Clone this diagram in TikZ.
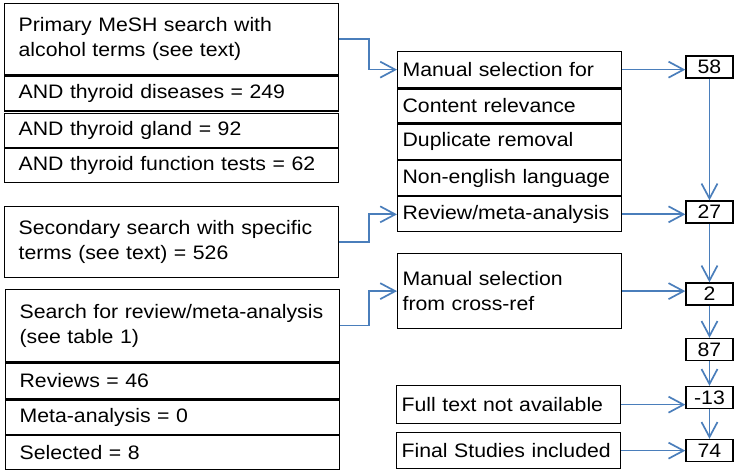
\documentclass[tikz,border=0pt]{standalone}
\usepackage{fontspec}
\setmainfont{Liberation Sans}[FakeStretch=1.09]
\usetikzlibrary{positioning,arrows.meta}
\definecolor{flowblue}{RGB}{74,126,187}

\tikzset{
  srch/.style={draw, line width=0.65pt, anchor=north west, align=left,
    text width=153pt, inner xsep=7pt, inner ysep=0pt, minimum height=#1},
  sel/.style={draw, line width=0.65pt, anchor=north west, align=left,
    text width=107pt, inner xsep=2.5pt, inner ysep=0pt, minimum height=#1},
  num/.style={draw, line width=0.65pt, minimum width=23.5pt,
    minimum height=11pt, inner sep=0pt},
  link/.style={draw=flowblue, line width=0.85pt,
    -{Straight Barb[length=7.5pt,width=8pt]}},
  every node/.style={font=\fontsize{9.75pt}{12.5pt}\selectfont}
}

\begin{document}
\begin{tikzpicture}[x=0.5pt, y=-0.5pt]
  \useasboundingbox (0,0) rectangle (741,474);

  % search boxes
  \node[srch=35.5pt] (p1) at (4,3) {Primary MeSH search with\\alcohol terms (see text)};
  \node[srch=17.5pt, below=0pt of p1] (p2) {AND thyroid diseases = 249};
  \node[srch=17pt, below=0.5pt of p2] (p3) {AND thyroid gland = 92};
  \node[srch=17pt, below=0pt of p3] (p4) {AND thyroid function tests = 62};

  \node[srch=35.5pt] (sec) at (4,206) {Secondary search with specific\\terms (see text) = 526};

  \node[srch=36pt] (rev) at (5,289) {Search for review/meta-analysis\\(see table 1)};
  \node[srch=18pt, below=0pt of rev] (rv) {Reviews = 46};
  \node[srch=17pt, below=0pt of rv] (ma) {Meta-analysis = 0};
  \node[srch=17pt, below=0pt of ma] (sl) {Selected = 8};

  % manual selection
  \node[sel=18pt] (m1) at (397,51) {Manual selection for};
  \node[sel=17pt, below=0pt of m1] (m2) {Content relevance};
  \node[sel=17.5pt, below=0pt of m2] (m3) {Duplicate removal};
  \node[sel=17.5pt, below=0pt of m3] (m4) {Non-english language};
  \node[sel=17.5pt, below=0pt of m4] (m5) {Review/meta-analysis};

  \node[sel=37.5pt] (xref) at (397,253) {Manual selection\\from cross-ref};
  \node[sel=19pt] (full) at (396,385) {Full text not available};
  \node[sel=18pt] (final) at (396,432) {Final Studies included};

  % counts
  \node[num] (n58) at (709.5,67) {58};
  \node[num] (n27) at (709.5,212) {27};
  \node[num] (n2) at (709.5,294) {2};
  \node[num] (n87) at (709.5,349.5) {87};
  \node[num] (n13) at (709.5,397.5) {-13};
  \node[num] (n74) at (709.5,450.5) {74};

  \draw[link] (p1.east) -- ++(30,0) |- (m1.west);
  \draw[link] (sec.east) -- ++(30,0) |- (m5.west);
  \draw[link] (rev.east) -- ++(29,0) |- (xref.west);

  \draw[link] (m1.east) -- (m1.east -| n58.west);
  \draw[link] (m5.east) -- (m5.east -| n27.west);
  \draw[link] (xref.east) -- (xref.east -| n2.west);
  \draw[link] (full.east) -- (full.east -| n13.west);
  \draw[link] (final.east) -- (final.east -| n74.west);

  \draw[link] (n58) -- (n27);
  \draw[link] (n27) -- (n2);
  \draw[link] (n2) -- (n87);
  \draw[link] (n87) -- (n13);
  \draw[link] (n13) -- (n74);
\end{tikzpicture}
\end{document}
